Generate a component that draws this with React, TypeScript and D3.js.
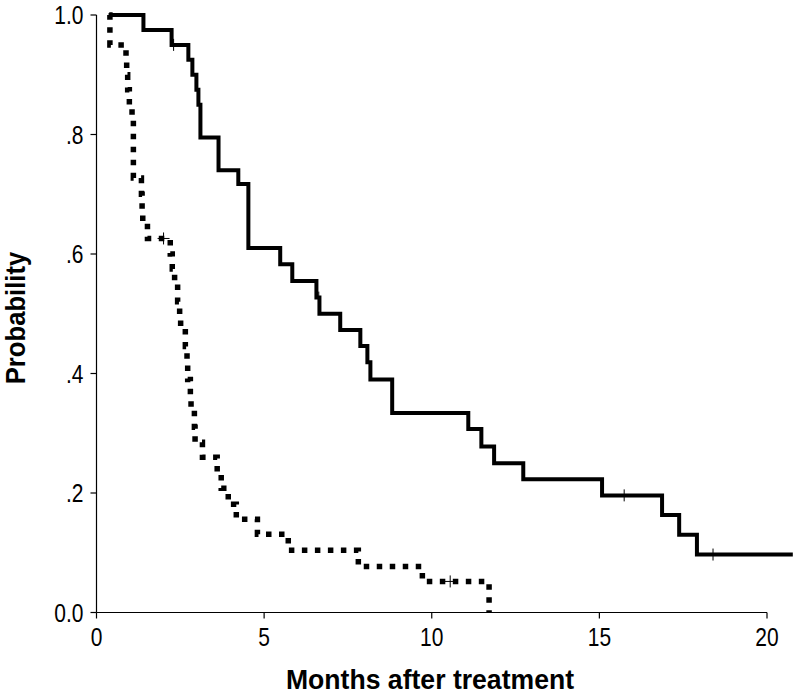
import React from "react";
import * as d3 from "d3";

document.body.style.margin = "0";

// solid group: event times (months) and survival after each drop
const solidTimes = [0.36, 1.4, 2.24, 2.74, 2.86, 2.98, 3.04, 3.1, 3.64, 4.23, 4.53, 5.48, 5.84, 6.56, 6.65, 7.27, 7.87, 8.08, 8.17, 8.82, 11.09, 11.48, 11.86, 12.73, 15.08, 16.87, 17.38, 17.91, 20.77];
const solidSurv = [1.0, 0.975, 0.95, 0.925, 0.9, 0.875, 0.85, 0.795, 0.74, 0.717, 0.61, 0.583, 0.555, 0.527, 0.5, 0.473, 0.446, 0.419, 0.39, 0.334, 0.307, 0.278, 0.25, 0.223, 0.196, 0.163, 0.13, 0.097, 0.097];
const solidCensor = [2.3, 6.63, 15.74, 18.39];

// dotted group
const dottedTimes = [0.38, 0.4, 0.88, 0.9, 0.93, 0.98, 1.06, 1.1, 1.34, 1.36, 1.38, 1.52, 2.2, 2.26, 2.33, 2.42, 2.48, 2.51, 2.65, 2.7, 2.72, 2.8, 2.82, 2.92, 2.94, 3.16, 3.6, 3.72, 3.93, 4.17, 4.8, 5.72, 7.81, 9.72, 11.71];
const dottedSurv = [1.0, 0.95, 0.925, 0.9, 0.875, 0.85, 0.825, 0.727, 0.7, 0.675, 0.652, 0.626, 0.6, 0.575, 0.55, 0.52, 0.497, 0.47, 0.445, 0.42, 0.39, 0.365, 0.34, 0.31, 0.285, 0.26, 0.233, 0.208, 0.181, 0.156, 0.131, 0.104, 0.077, 0.052, 0.0];
const dottedCensor = [2.0, 10.55];

const xTicks = [0, 5, 10, 15, 20];
const yTicks = [0, 0.2, 0.4, 0.6, 0.8, 1.0];
const yTickLabels = ["0.0", ".2", ".4", ".6", ".8", "1.0"];

const W = 794;
const H = 696;
const font = "'Liberation Sans Narrow', 'Liberation Sans', Arial, sans-serif";

export default function App() {
  const x = d3.scaleLinear().domain([0, 20]).range([96.5, 767]);
  const y = d3.scaleLinear().domain([0, 1]).range([612.5, 15]);

  const line = d3
    .line<[number, number]>()
    .x((d) => x(d[0]))
    .y((d) => y(d[1]))
    .curve(d3.curveStepAfter);

  const solidPts = solidTimes.map((t, i) => [t, solidSurv[i]] as [number, number]);
  const dottedPts = dottedTimes.map((t, i) => [t, dottedSurv[i]] as [number, number]);

  // survival level at time t (for censor marks)
  const levelAt = (times: number[], surv: number[], t: number) => {
    let s = surv[0];
    times.forEach((tt, i) => {
      if (tt <= t) s = surv[i];
    });
    return s;
  };

  return (
    <svg width={W} height={H} style={{ display: "block", background: "#fff" }}>
      {/* axes */}
      <g stroke="#000" strokeWidth={1.2} fill="none">
        <line x1={x(0)} x2={x(20)} y1={y(0)} y2={y(0)} />
        <line x1={x(0)} x2={x(0)} y1={y(0)} y2={y(1)} />
        {xTicks.map((t) => (
          <line key={"xt" + t} x1={x(t)} x2={x(t)} y1={y(0)} y2={y(0) + 6} />
        ))}
        {yTicks.map((t) => (
          <line key={"yt" + t} x1={x(0) - 6} x2={x(0)} y1={y(t)} y2={y(t)} />
        ))}
      </g>
      <g fontFamily={font} fontSize={25} fill="#000">
        {xTicks.map((t) => (
          <text
            key={"xl" + t}
            transform={`translate(${x(t)}, ${y(0) + 33}) scale(0.84, 1)`}
            textAnchor="middle"
          >
            {t}
          </text>
        ))}
        {yTicks.map((t, i) => (
          <text
            key={"yl" + t}
            transform={`translate(${x(0) - 13}, ${y(t) + 9}) scale(0.84, 1)`}
            textAnchor="end"
          >
            {yTickLabels[i]}
          </text>
        ))}
      </g>
      <text
        transform="translate(430, 689) scale(0.95, 1)"
        textAnchor="middle"
        fontFamily={font}
        fontWeight="bold"
        fontSize={28}
      >
        Months after treatment
      </text>
      <text
        transform="translate(25, 318) rotate(-90) scale(0.95, 1)"
        textAnchor="middle"
        fontFamily={font}
        fontWeight="bold"
        fontSize={27}
      >
        Probability
      </text>

      {/* curves */}
      <path d={line(solidPts) || ""} fill="none" stroke="#000" strokeWidth={4} strokeLinejoin="miter" />
      <path
        d={line(dottedPts) || ""}
        fill="none"
        stroke="#000"
        strokeWidth={5.5}
        strokeDasharray="5.5 7.5"
      />

      {/* censor marks */}
      <g stroke="#000" strokeWidth={1}>
        {solidCensor.map((t) => {
          const s = levelAt(solidTimes, solidSurv, t);
          return <line key={"sc" + t} x1={x(t)} x2={x(t)} y1={y(s) - 6} y2={y(s) + 6} />;
        })}
        {dottedCensor.map((t) => {
          const s = levelAt(dottedTimes, dottedSurv, t);
          return (
            <g key={"dc" + t}>
              <line x1={x(t)} x2={x(t)} y1={y(s) - 6} y2={y(s) + 6} />
              <line x1={x(t) - 6} x2={x(t) + 6} y1={y(s)} y2={y(s)} />
            </g>
          );
        })}
      </g>
    </svg>
  );
}
